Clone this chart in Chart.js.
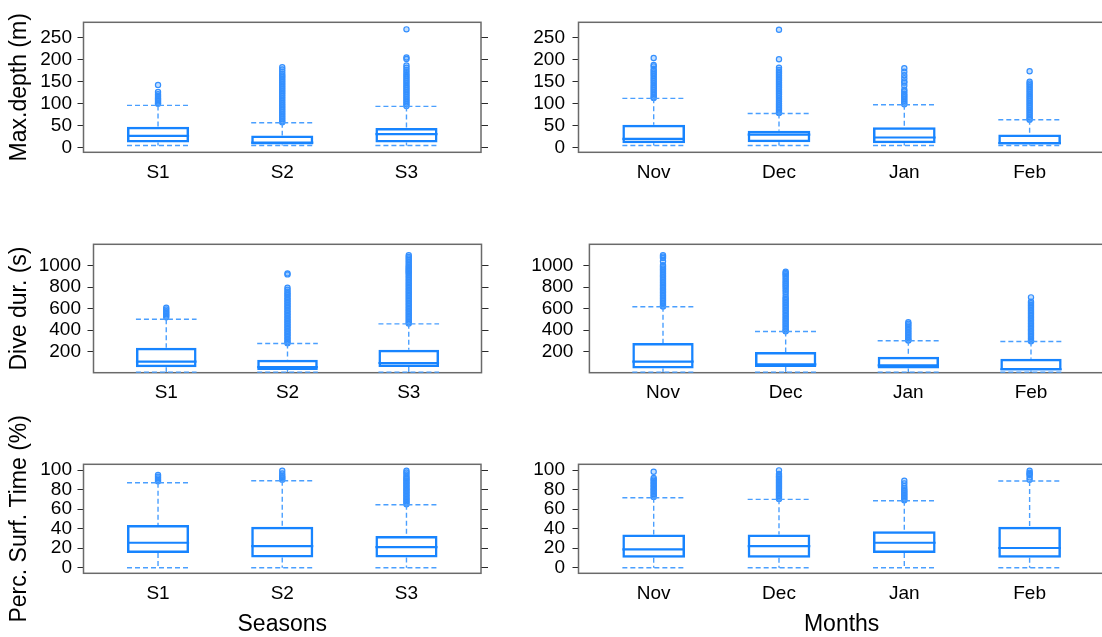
<!DOCTYPE html>
<html>
<head>
<meta charset="utf-8">
<script src="https://cdn.jsdelivr.net/npm/chart.js@4.4.1/dist/chart.umd.min.js"></script>
<style>
  html, body { margin: 0; padding: 0; background: #fff; overflow: hidden; }
  #wrap { position: relative; width: 1102px; height: 637px; overflow: hidden; background: #fff; }
  #wrap canvas { position: absolute; }
</style>
</head>
<body>
<div id="wrap"></div>
<script>
// ---- categories and axis ticks ----
const seasons = ['S1', 'S2', 'S3'];
const months = ['Nov', 'Dec', 'Jan', 'Feb'];

const depthTicks = [0, 50, 100, 150, 200, 250];
const durTicks = [200, 400, 600, 800, 1000];
const surfTicks = [0, 20, 40, 60, 80, 100];

// ---- five-number summaries per group: [lower whisker, Q1, median, Q3, upper whisker] ----
const depthBySeason = [[4.5, 11.4, 26.4, 46.8, 95.4], [4.5, 6.5, 11, 27.3, 56], [4.5, 11.4, 30.2, 43.9, 93.2]];
const depthByMonth = [[4.5, 9.8, 19.5, 51.4, 111.4], [4.5, 12, 29, 37.8, 77.2], [4.5, 9.8, 22.6, 46, 96.9], [4.5, 6.5, 10, 29.5, 62.8]];
const durBySeason = [[10, 56, 108, 237, 502], [10, 30, 57, 126, 277], [10, 59, 96, 219, 459]];
const durByMonth = [[10, 46, 108, 281, 618], [10, 58, 83, 197, 388], [10, 45, 74, 153, 302], [10, 26, 38, 136, 296]];
const surfBySeason = [[0, 15.1, 25.6, 43.7, 87], [0, 10.6, 22.2, 42, 89], [0, 10.6, 21.2, 32.4, 64.5]];
const surfByMonth = [[0, 10.2, 18.8, 34.1, 71.7], [0, 10.2, 22.2, 34.1, 70], [0, 15.1, 25.6, 37.3, 68.6], [0, 10.2, 20.2, 42, 88.8]];

// ---- outlying observations per group ----
const depthOutSeason = [
  [142, 126, 121, 117, 113, 110, 107, 104, 101, 99],
  [182, 177, 172, 167, 163, 160, 156, 152, 148, 144, 140, 136, 132, 128, 124, 120, 116, 112, 108, 104, 100, 96, 92, 88, 84, 80, 76, 72, 68, 64, 60, 57],
  [268, 204, 201, 186, 181, 176, 171, 166, 162, 158, 154, 150, 146, 142, 138, 134, 130, 126, 122, 118, 114, 110, 106, 102, 98, 94]
];
const depthOutMonth = [
  [203, 187, 184, 178, 174, 170, 166, 162, 158, 154, 150, 146, 142, 138, 134, 130, 126, 122, 118, 114, 112],
  [267, 200, 181, 176, 172, 168, 164, 160, 156, 152, 148, 144, 140, 136, 132, 128, 124, 120, 116, 112, 108, 104, 100, 96, 92, 88, 84, 80, 78],
  [180, 172, 164, 157, 150, 147, 140, 131, 127, 122, 118, 114, 110, 106, 102, 98],
  [173, 149, 145, 141, 137, 133, 129, 125, 121, 117, 113, 109, 105, 101, 97, 93, 89, 85, 81, 77, 73, 69, 65, 63]
];
const durOutSeason = [
  [609, 592, 576, 562, 548, 535, 521],
  [927, 918, 794, 776, 757, 740, 727, 710, 695, 680, 665, 650, 635, 620, 605, 590, 575, 560, 545, 530, 515, 500, 485, 470, 455, 440, 425, 410, 395, 380, 365, 350, 335, 320, 305, 290, 280],
  [1096, 1080, 1065, 1050, 1034, 1018, 1003, 990, 978, 968, 957, 946, 936, 925, 910, 895, 880, 865, 850, 835, 820, 805, 790, 775, 760, 745, 730, 715, 700, 685, 670, 655, 640, 625, 610, 595, 580, 565, 550, 535, 520, 505, 490, 475, 462]
];
const durOutMonth = [
  [1096, 1083, 1071, 1040, 1003, 988, 973, 958, 942, 926, 911, 896, 880, 865, 850, 835, 820, 805, 790, 775, 760, 745, 730, 715, 700, 685, 670, 655, 640, 625, 620],
  [942, 931, 920, 905, 889, 872, 855, 840, 825, 810, 794, 776, 757, 735, 711, 695, 680, 665, 650, 635, 620, 605, 590, 575, 560, 545, 530, 515, 500, 485, 470, 455, 440, 425, 410, 395, 390],
  [474, 460, 445, 430, 415, 400, 385, 370, 355, 340, 325, 310, 304],
  [705, 665, 650, 635, 620, 605, 590, 575, 560, 545, 530, 515, 500, 485, 470, 455, 440, 425, 410, 395, 380, 365, 350, 335, 320, 305, 298]
];
const surfOutSeason = [
  [94.9, 93.2, 91.5, 90, 88.5],
  [99.3, 96.6, 94.2, 92.8, 91.5, 90.2],
  [99.3, 97.5, 95.6, 93.5, 92, 90.5, 89, 87.5, 86, 84.5, 83, 81.5, 80, 78.5, 77, 75.5, 74, 72.5, 71, 69.5, 68, 66.5, 65]
];
const surfOutMonth = [
  [98.3, 92, 90.5, 89, 87.5, 86, 84.5, 83, 81.5, 80, 78.5, 77, 75.5, 74, 72.5],
  [99.7, 96, 94.2, 93, 91.5, 90, 88.5, 87, 85.5, 84, 82.5, 81, 79.5, 78, 76.5, 75, 73.5, 72, 70.5],
  [89, 86.4, 83.6, 81.3, 79.5, 78, 76.5, 75, 73.5, 72, 70.5, 69],
  [99.3, 97.3, 96, 94.9, 92.5, 90.1]
];

// ---- styling ----
const FONT = "'Liberation Sans', Arial, sans-serif";
const BOX_COLOR = '#1784ff';
const WHISKER_COLOR = '#4a9fff';
const OUTLIER_COLOR = '#3590ff';
const OUTLIER_FILL = 'rgba(40,140,255,0.28)';
const FRAME_COLOR = '#6a6a6a';
const HALF_BOX = 0.25;           // half box width, in category units

// draws the panel frame around the plotting region
const framePlugin = {
  id: 'panelFrame',
  beforeDatasetsDraw(chart) {
    const { ctx, chartArea: a } = chart;
    ctx.save();
    ctx.strokeStyle = FRAME_COLOR;
    ctx.lineWidth = 1.5;
    ctx.strokeRect(a.left, a.top, a.right - a.left, a.bottom - a.top);
    ctx.restore();
  }
};

// panel placement: canvas box and the plotting region inside it (page pixels)
const panels = [
  { cats: seasons, stats: depthBySeason, outs: depthOutSeason, ticks: depthTicks, yMin: -11, yMax: 284,
    x0: 0, y0: 0, w: 500, h: 200, L: 83.5, R: 481, T: 22.3, B: 152.3, labelPad: 5.5,
    yTitle: 'Max.depth (m)', xTitle: '', rightTicks: true },
  { cats: months, stats: depthByMonth, outs: depthOutMonth, ticks: depthTicks, yMin: -11, yMax: 284,
    x0: 500, y0: 0, w: 610, h: 200, L: 578.5, R: 1105, T: 22.3, B: 152.3, labelPad: 7.5,
    yTitle: '', xTitle: '', rightTicks: false },
  { cats: seasons, stats: durBySeason, outs: durOutSeason, ticks: durTicks, yMin: 6, yMax: 1197,
    x0: 0, y0: 200, w: 500, h: 200, L: 93.5, R: 481.5, T: 244.3, B: 372.7, labelPad: 6.5,
    yTitle: 'Dive dur. (s)', xTitle: '', rightTicks: true },
  { cats: months, stats: durByMonth, outs: durOutMonth, ticks: durTicks, yMin: 6, yMax: 1197,
    x0: 500, y0: 200, w: 610, h: 200, L: 589.4, R: 1104.6, T: 244.3, B: 372.7, labelPad: 10,
    yTitle: '', xTitle: '', rightTicks: false },
  { cats: seasons, stats: surfBySeason, outs: surfOutSeason, ticks: surfTicks, yMin: -5.7, yMax: 105.9,
    x0: 0, y0: 380, w: 500, h: 257, L: 83.5, R: 481, T: 464.3, B: 573.3, labelPad: 5.5,
    yTitle: 'Perc. Surf. Time (%)', xTitle: 'Seasons', rightTicks: true },
  { cats: months, stats: surfByMonth, outs: surfOutMonth, ticks: surfTicks, yMin: -5.7, yMax: 105.9,
    x0: 500, y0: 380, w: 610, h: 257, L: 578.5, R: 1105, T: 464.3, B: 573.3, labelPad: 7.5,
    yTitle: '', xTitle: 'Months', rightTicks: false }
];

function buildPanel(p) {
  const canvas = document.createElement('canvas');
  canvas.width = p.w;
  canvas.height = p.h;
  canvas.style.left = p.x0 + 'px';
  canvas.style.top = p.y0 + 'px';
  document.getElementById('wrap').appendChild(canvas);

  const boxes = [], medians = [], whiskers = [], outliers = [];
  p.stats.forEach((s, i) => {
    const c = i + 1, l = c - HALF_BOX, r = c + HALF_BOX;
    boxes.push({ x: c, y: [s[1], s[3]] });
    medians.push({ x: l, y: s[2] }, { x: r, y: s[2] }, { x: c, y: null });
    whiskers.push(
      { x: l, y: s[4] }, { x: r, y: s[4] }, { x: c, y: null },
      { x: c, y: s[4] }, { x: c, y: s[3] }, { x: c, y: null },
      { x: c, y: s[1] }, { x: c, y: s[0] }, { x: c, y: null },
      { x: l, y: s[0] }, { x: r, y: s[0] }, { x: c, y: null }
    );
    p.outs[i].forEach(v => outliers.push({ x: c, y: v }));
  });

  const setTicks = (vals) => (scale) => { scale.ticks = vals.map(v => ({ value: v })); };
  const catIdx = p.cats.map((_, i) => i + 1);

  const scales = {
    x: {
      type: 'linear', min: 0.4, max: p.cats.length + 0.6, offset: false,
      afterBuildTicks: setTicks(catIdx),
      afterFit: (s) => { s.height = p.y0 + p.h - p.B; },
      grid: { display: false, drawTicks: false },
      border: { display: false },
      ticks: { padding: 9, color: '#000', font: { family: FONT, size: 19 }, autoSkip: false, maxRotation: 0,
               callback: (v) => p.cats[v - 1] || '' },
      title: { display: !!p.xTitle, text: p.xTitle, color: '#000',
               font: { family: FONT, size: 23, lineHeight: 1 }, padding: { top: 0, bottom: 0.5 } }
    },
    y: {
      type: 'linear', position: 'left', min: p.yMin, max: p.yMax, beginAtZero: false,
      afterBuildTicks: setTicks(p.ticks),
      afterFit: (s) => { s.width = p.L - p.x0; },
      grid: { display: true, drawOnChartArea: false, drawTicks: true, tickLength: 6, color: '#2a2a2a', lineWidth: 1 },
      border: { display: false },
      ticks: { padding: p.labelPad, color: '#000', font: { family: FONT, size: 19 }, autoSkip: false,
               callback: (v) => String(v) },
      title: { display: !!p.yTitle, text: p.yTitle, color: '#000',
               font: { family: FONT, size: 23, lineHeight: 1 }, padding: { top: 8.5, bottom: 0 } }
    }
  };
  if (p.rightTicks) {
    scales.y2 = {
      type: 'linear', position: 'right', min: p.yMin, max: p.yMax,
      afterBuildTicks: setTicks(p.ticks),
      afterFit: (s) => { s.width = p.x0 + p.w - p.R; },
      grid: { display: true, drawOnChartArea: false, drawTicks: true, tickLength: 7, color: '#2a2a2a', lineWidth: 1 },
      border: { display: false },
      ticks: { display: false, autoSkip: false }
    };
  }

  return new Chart(canvas, {
    type: 'bar',
    data: {
      datasets: [
        { type: 'bar', data: boxes, backgroundColor: 'rgba(255,255,255,0)', borderColor: BOX_COLOR,
          borderWidth: 2.5, borderSkipped: false, barPercentage: 0.5, categoryPercentage: 1, yAxisID: 'y' },
        { type: 'line', data: medians, borderColor: BOX_COLOR, borderWidth: 2.2, pointRadius: 0,
          spanGaps: false, fill: false, yAxisID: 'y' },
        { type: 'line', data: whiskers, borderColor: WHISKER_COLOR, borderWidth: 1.4, borderDash: [5, 3],
          pointRadius: 0, spanGaps: false, fill: false, yAxisID: 'y' },
        { type: 'scatter', data: outliers, borderColor: OUTLIER_COLOR, backgroundColor: OUTLIER_FILL,
          pointRadius: 2.6, pointBorderWidth: 1.2, showLine: false, yAxisID: 'y' }
      ]
    },
    options: {
      responsive: false,
      animation: false,
      devicePixelRatio: 1,
      events: [],
      layout: { padding: { left: 0, top: p.T - p.y0, right: p.rightTicks ? 0 : (p.x0 + p.w - p.R), bottom: 0 } },
      plugins: { legend: { display: false }, tooltip: { enabled: false } },
      scales
    },
    plugins: [framePlugin]
  });
}

panels.forEach(buildPanel);
</script>
</body>
</html>
